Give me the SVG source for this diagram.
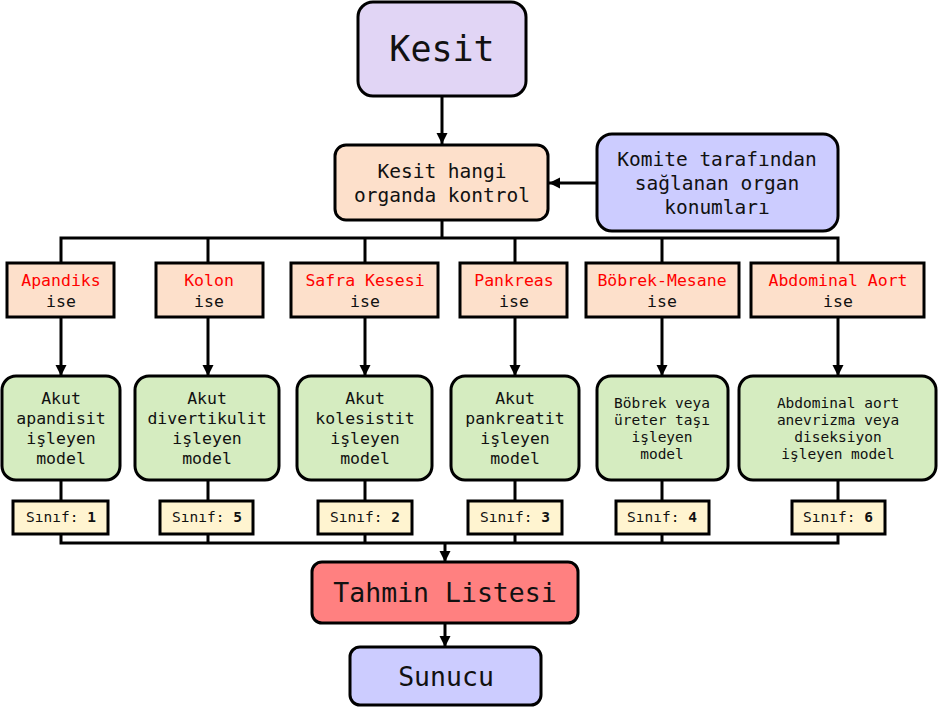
<svg xmlns="http://www.w3.org/2000/svg" width="939" height="707" viewBox="0 0 939 707">
<defs>
<marker id="ah" markerUnits="userSpaceOnUse" markerWidth="12" markerHeight="12" refX="11" refY="6" orient="auto">
<path d="M0,0.5 L11,6 L0,11.5 Z" fill="#000"/>
</marker>
<style>
text{font-family:"DejaVu Sans Mono","Liberation Mono",monospace;fill:#111;text-anchor:middle;dominant-baseline:central}
.bx{stroke:#000;stroke-width:3}
.purple{fill:#e1d5f5}
.peach{fill:#fde0cb}
.blue{fill:#ccccff}
.green{fill:#d5ecc0}
.cls{fill:#fff4d0}
.red{fill:#ff8080}
.org{fill:#ff0000}
.ise{font-size:16.5px}
.gm{font-size:16.5px}
.gs{font-size:14.5px}
.sn{font-size:14.5px}
.conn{stroke:#000;stroke-width:3;fill:none}
</style>
</defs>
<g id="connectors">
<line class="conn" x1="442" y1="96" x2="442" y2="144" marker-end="url(#ah)"/>
<line class="conn" x1="597" y1="183" x2="549" y2="183" marker-end="url(#ah)"/>
<path class="conn" d="M442,220 V238 M61,263 V238 H838 V263 M208,238 V263 M365,238 V263 M515,238 V263 M662,238 V263"/>
<line class="conn" x1="61" y1="317" x2="61" y2="376" marker-end="url(#ah)"/>
<line class="conn" x1="208" y1="317" x2="208" y2="376" marker-end="url(#ah)"/>
<line class="conn" x1="365" y1="317" x2="365" y2="376" marker-end="url(#ah)"/>
<line class="conn" x1="515" y1="317" x2="515" y2="376" marker-end="url(#ah)"/>
<line class="conn" x1="662" y1="317" x2="662" y2="376" marker-end="url(#ah)"/>
<line class="conn" x1="838" y1="317" x2="838" y2="376" marker-end="url(#ah)"/>
<path class="conn" d="M61,480 V501 M208,480 V501 M365,480 V501 M515,480 V501 M662,480 V501 M838,480 V501"/>
<path class="conn" d="M61,534 V543 H838 V534 M208,534 V543 M365,534 V543 M515,534 V543 M662,534 V543"/>
<line class="conn" x1="445" y1="543" x2="445" y2="562" marker-end="url(#ah)"/>
<line class="conn" x1="445" y1="623" x2="445" y2="647" marker-end="url(#ah)"/>
</g>
<g id="kesit">
<rect class="bx purple" x="358" y="2" width="168" height="94" rx="15"/>
<text x="442" y="49" font-size="35">Kesit</text>
</g>
<g id="kontrol">
<rect class="bx peach" x="335" y="145" width="213" height="75" rx="11"/>
<text x="442" y="171" font-size="19.5">Kesit hangi</text>
<text x="442" y="195" font-size="19.5">organda kontrol</text>
</g>
<g id="komite">
<rect class="bx blue" x="597" y="134" width="241" height="97" rx="15"/>
<text x="717" y="159" font-size="19.5">Komite tarafından</text>
<text x="717" y="183" font-size="19.5">sağlanan organ</text>
<text x="717" y="207" font-size="19.5">konumları</text>
</g>
<g id="ise-apandiks">
<rect class="bx peach" x="7" y="263" width="107" height="54"/>
<text class="ise org" x="61" y="280">Apandiks</text>
<text class="ise" x="61" y="301">ise</text>
</g>
<g id="ise-kolon">
<rect class="bx peach" x="156" y="263" width="107" height="54"/>
<text class="ise org" x="209" y="280">Kolon</text>
<text class="ise" x="209" y="301">ise</text>
</g>
<g id="ise-safra">
<rect class="bx peach" x="291" y="263" width="147" height="54"/>
<text class="ise org" x="365" y="280">Safra Kesesi</text>
<text class="ise" x="365" y="301">ise</text>
</g>
<g id="ise-pankreas">
<rect class="bx peach" x="460" y="263" width="107" height="54"/>
<text class="ise org" x="514" y="280">Pankreas</text>
<text class="ise" x="514" y="301">ise</text>
</g>
<g id="ise-bobrek">
<rect class="bx peach" x="586" y="263" width="153" height="54"/>
<text class="ise org" x="662" y="280">Böbrek-Mesane</text>
<text class="ise" x="662" y="301">ise</text>
</g>
<g id="ise-aort">
<rect class="bx peach" x="751" y="263" width="173" height="54"/>
<text class="ise org" x="838" y="280">Abdominal Aort</text>
<text class="ise" x="838" y="301">ise</text>
</g>
<g id="model-1">
<rect class="bx green" x="2" y="376" width="118" height="104" rx="14"/>
<text class="gm" x="61" y="398">Akut</text>
<text class="gm" x="61" y="418">apandisit</text>
<text class="gm" x="61" y="438">işleyen</text>
<text class="gm" x="61" y="458">model</text>
</g>
<g id="model-5">
<rect class="bx green" x="135" y="376" width="144" height="104" rx="14"/>
<text class="gm" x="207" y="398">Akut</text>
<text class="gm" x="207" y="418">divertikulit</text>
<text class="gm" x="207" y="438">işleyen</text>
<text class="gm" x="207" y="458">model</text>
</g>
<g id="model-2">
<rect class="bx green" x="297" y="376" width="135" height="104" rx="14"/>
<text class="gm" x="365" y="398">Akut</text>
<text class="gm" x="365" y="418">kolesistit</text>
<text class="gm" x="365" y="438">işleyen</text>
<text class="gm" x="365" y="458">model</text>
</g>
<g id="model-3">
<rect class="bx green" x="451" y="376" width="128" height="104" rx="14"/>
<text class="gm" x="515" y="398">Akut</text>
<text class="gm" x="515" y="418">pankreatit</text>
<text class="gm" x="515" y="438">işleyen</text>
<text class="gm" x="515" y="458">model</text>
</g>
<g id="model-4">
<rect class="bx green" x="597" y="376" width="131" height="104" rx="14"/>
<text class="gs" x="662" y="403">Böbrek veya</text>
<text class="gs" x="662" y="420">üreter taşı</text>
<text class="gs" x="662" y="437">işleyen</text>
<text class="gs" x="662" y="454">model</text>
</g>
<g id="model-6">
<rect class="bx green" x="739" y="376" width="197" height="104" rx="14"/>
<text class="gs" x="838" y="403">Abdominal aort</text>
<text class="gs" x="838" y="420">anevrizma veya</text>
<text class="gs" x="838" y="437">diseksiyon</text>
<text class="gs" x="838" y="454">işleyen model</text>
</g>
<g id="sinif-1">
<rect class="bx cls" x="13" y="501" width="95" height="33"/>
<text class="sn" x="61" y="517">Sınıf: <tspan font-weight="bold">1</tspan></text>
</g>
<g id="sinif-5">
<rect class="bx cls" x="160" y="501" width="93" height="33"/>
<text class="sn" x="207" y="517">Sınıf: <tspan font-weight="bold">5</tspan></text>
</g>
<g id="sinif-2">
<rect class="bx cls" x="318" y="501" width="94" height="33"/>
<text class="sn" x="365" y="517">Sınıf: <tspan font-weight="bold">2</tspan></text>
</g>
<g id="sinif-3">
<rect class="bx cls" x="468" y="501" width="94" height="33"/>
<text class="sn" x="515" y="517">Sınıf: <tspan font-weight="bold">3</tspan></text>
</g>
<g id="sinif-4">
<rect class="bx cls" x="616" y="501" width="93" height="33"/>
<text class="sn" x="662" y="517">Sınıf: <tspan font-weight="bold">4</tspan></text>
</g>
<g id="sinif-6">
<rect class="bx cls" x="792" y="501" width="93" height="33"/>
<text class="sn" x="838" y="517">Sınıf: <tspan font-weight="bold">6</tspan></text>
</g>
<g id="tahmin">
<rect class="bx red" x="312" y="562" width="266" height="61" rx="10"/>
<text x="445" y="592" font-size="26.5">Tahmin Listesi</text>
</g>
<g id="sunucu">
<rect class="bx blue" x="350" y="647" width="191" height="58" rx="10"/>
<text x="446" y="676" font-size="26.5">Sunucu</text>
</g>
</svg>
